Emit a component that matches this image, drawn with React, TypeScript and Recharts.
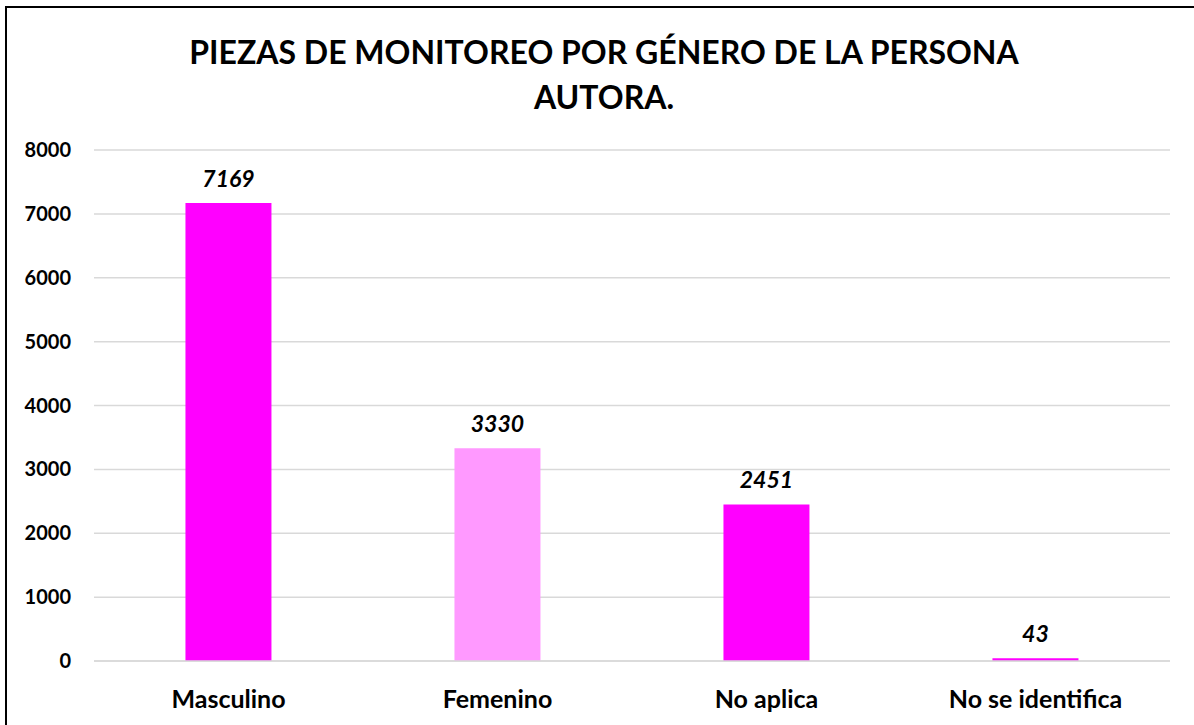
import React from "react";
import { BarChart, Bar, XAxis, YAxis, CartesianGrid, LabelList, Cell } from "recharts";

const categories = ["Masculino", "Femenino", "No aplica", "No se identifica"];
const values = [7169, 3330, 2451, 43];
const barColors = ["#FF00FF", "#FF99FF", "#FF00FF", "#FF00FF"];
const yTicks = [0, 1000, 2000, 3000, 4000, 5000, 6000, 7000, 8000];
const titleLines = ["PIEZAS DE MONITOREO POR GÉNERO DE LA PERSONA", "AUTORA."];

const data = categories.map((c, i) => ({ name: c, value: values[i] }));

const FONT = "Lato, 'Open Sans', sans-serif";

export default function App() {
  return (
    <div style={{ position: "absolute", left: 0, top: 0, width: 1194, height: 725, background: "#fff", overflow: "hidden", fontFamily: FONT }}>
      <div style={{ position: "absolute", left: 5, top: 6, width: 1200, height: 740, borderLeft: "2px solid #000", borderTop: "2px solid #000", boxSizing: "border-box" }} />
      <div style={{ position: "absolute", left: 0, top: 29, width: 1208, textAlign: "center", fontWeight: 700, fontSize: 32, lineHeight: "45px", color: "#000" }}>
        {titleLines.map((l, i) => (
          <div key={i}>{l}</div>
        ))}
      </div>
      <BarChart width={1194} height={725} data={data} margin={{ top: 150, right: 24, bottom: 0, left: 0 }} barCategoryGap="34%" style={{ position: "absolute", left: 0, top: 0 }}>
        <CartesianGrid vertical={false} stroke="#d9d9d9" strokeWidth={1.5} />
        <XAxis dataKey="name" height={64} axisLine={{ stroke: "#d9d9d9", strokeWidth: 1.5 }} tickLine={false} tickSize={0} tickMargin={29} tick={{ fill: "#000", fontSize: 25, fontWeight: 700, fontFamily: FONT }} interval={0} />
        <YAxis width={94} domain={[0, 8000]} ticks={yTicks} axisLine={false} tickLine={false} tickSize={0} tickMargin={23} tick={{ fill: "#000", fontSize: 20, fontWeight: 700, fontFamily: FONT }} />
        <Bar dataKey="value" isAnimationActive={false}>
          {data.map((d, i) => (
            <Cell key={i} fill={barColors[i]} />
          ))}
          <LabelList dataKey="value" position="top" offset={16} style={{ fill: "#000", fontSize: 23, fontWeight: 700, fontStyle: "italic", fontFamily: FONT }} />
        </Bar>
      </BarChart>
    </div>
  );
}
